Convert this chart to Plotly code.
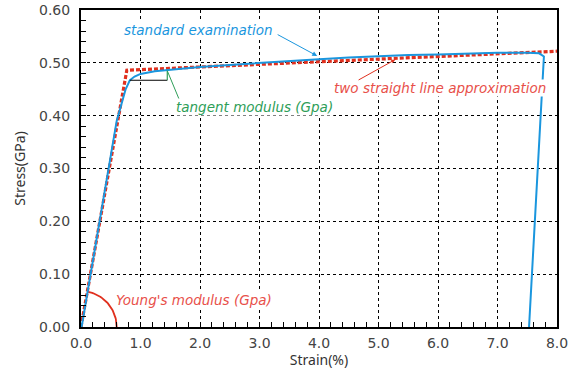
import numpy as np
import plotly.graph_objects as go

# Measured curve ("standard examination")
exp_strain = [0.01, 0.2, 0.4, 0.6, 0.75, 0.82, 0.9, 1.0, 1.24, 1.41, 1.66, 2.0, 2.5, 3.0,
              3.5, 4.0, 4.5, 5.0, 5.5, 6.0, 6.5, 7.0, 7.5, 7.7, 7.78, 7.53]
exp_stress = [0.0, 0.126, 0.26, 0.39, 0.45, 0.467, 0.474, 0.479, 0.484, 0.486, 0.488, 0.492,
              0.496, 0.5, 0.504, 0.507, 0.510, 0.513, 0.515, 0.516, 0.518, 0.519, 0.519,
              0.518, 0.512, 0.0]

# Two straight line approximation
approx_strain = [0.0, 0.77, 8.0]
approx_stress = [0.0, 0.486, 0.522]

# Tangent construction
tan_x = [0.82, 1.45]
tan_y = [0.467, 0.485]

x_ticks = [0, 1, 2, 3, 4, 5, 6, 7, 8]
x_ticklabels = ["0.0", "1.0", "2.0", "3.0", "4.0", "5.0", "6.0", "7.0", "8.0"]
y_ticks = [0, 0.1, 0.2, 0.3, 0.4, 0.5, 0.6]
y_ticklabels = ["0.00", "0.10", "0.20", "0.30", "0.40", "0.50", "0.60"]

RED = "#e0301e"
BLUE = "#1a96de"
GREEN = "#2e9e58"
FONT = "DejaVu Sans"
TITLE_FONT = "Noto Sans"

fig = go.Figure()

# Young's modulus arc (decoration)
t = np.linspace(0, np.deg2rad(80), 40)
fig.add_trace(go.Scatter(x=0.6 * np.cos(t), y=0.068 * np.sin(t), mode="lines",
                         line=dict(color=RED, width=1.8), hoverinfo="skip", showlegend=False))

fig.add_trace(go.Scatter(x=approx_strain, y=approx_stress, mode="lines",
                         line=dict(color=RED, width=3.2, dash="4px,2px"), showlegend=False))
fig.add_trace(go.Scatter(x=exp_strain, y=exp_stress, mode="lines",
                         line=dict(color=BLUE, width=2), showlegend=False))

# tangent construction lines
fig.add_trace(go.Scatter(x=[tan_x[0], tan_x[1]], y=[tan_y[0], tan_y[0]], mode="lines",
                         line=dict(color="black", width=1.2), showlegend=False))
fig.add_trace(go.Scatter(x=[tan_x[1], tan_x[1]], y=[tan_y[0], tan_y[1]], mode="lines",
                         line=dict(color=GREEN, width=1.2), showlegend=False))
fig.add_trace(go.Scatter(x=[1.66, tan_x[1]], y=[0.428, tan_y[1]], mode="lines",
                         line=dict(color=GREEN, width=1), showlegend=False))

anns = [
    dict(text="standard examination", x=1.97, y=0.562, color=BLUE),
    dict(text="tangent modulus (Gpa)", x=2.91, y=0.4157, color=GREEN),
    dict(text="two straight line approximation", x=6.04, y=0.4515, color="#e8504a"),
    dict(text="Young's modulus (Gpa)", x=1.90, y=0.051, color="#e8504a"),
]
for a in anns:
    fig.add_annotation(x=a["x"], y=a["y"], text=a["text"], showarrow=False,
                       font=dict(family=FONT, size=13.5, color=a["color"], style="italic"),
                       bgcolor="white", borderpad=0)

# arrows
fig.add_annotation(x=3.97, y=0.513, ax=3.28, ay=0.555, axref="x", ayref="y", text="",
                   showarrow=True, arrowhead=2, arrowsize=1, arrowwidth=1, arrowcolor=BLUE)
fig.add_annotation(x=5.28, y=0.506, ax=4.64, ay=0.466, axref="x", ayref="y", text="",
                   showarrow=True, arrowhead=2, arrowsize=0.8, arrowwidth=1, arrowcolor=RED)

axis_common = dict(
    showline=True, linecolor="black", linewidth=2, mirror=True,
    showgrid=True, gridcolor="black", gridwidth=1, griddash="dot",
    ticks="inside", ticklen=5, tickcolor="black", tickwidth=1,
    zeroline=False, automargin=False,
    tickfont=dict(family=FONT, size=14, color="#444"),
)

fig.update_xaxes(range=[0, 8], tickvals=x_ticks, ticktext=x_ticklabels,
                 minor=dict(dtick=0.2, ticks="inside", ticklen=5, tickcolor="black", showgrid=False),
                 title=dict(text="Strain(%)", font=dict(family=TITLE_FONT, size=14, color="#333"), standoff=4),
                 ticklabelstandoff=2,
                 **axis_common)
fig.update_yaxes(range=[0, 0.6], tickvals=y_ticks, ticktext=y_ticklabels,
                 minor=dict(dtick=0.02, ticks="inside", ticklen=5, tickcolor="black", showgrid=False),
                 title=dict(text="Stress(GPa)", font=dict(family=TITLE_FONT, size=14, color="#333"), standoff=10),
                 ticklabelstandoff=6,
                 **axis_common)

fig.update_layout(width=574, height=369, margin=dict(l=81, r=17, t=10, b=42),
                  plot_bgcolor="white", paper_bgcolor="white", showlegend=False)

# remove the default page margin so the figure sits at the window's top-left corner
fig.write_html("out.html", config={"displayModeBar": False},
               post_script="document.body.style.margin='0';")
